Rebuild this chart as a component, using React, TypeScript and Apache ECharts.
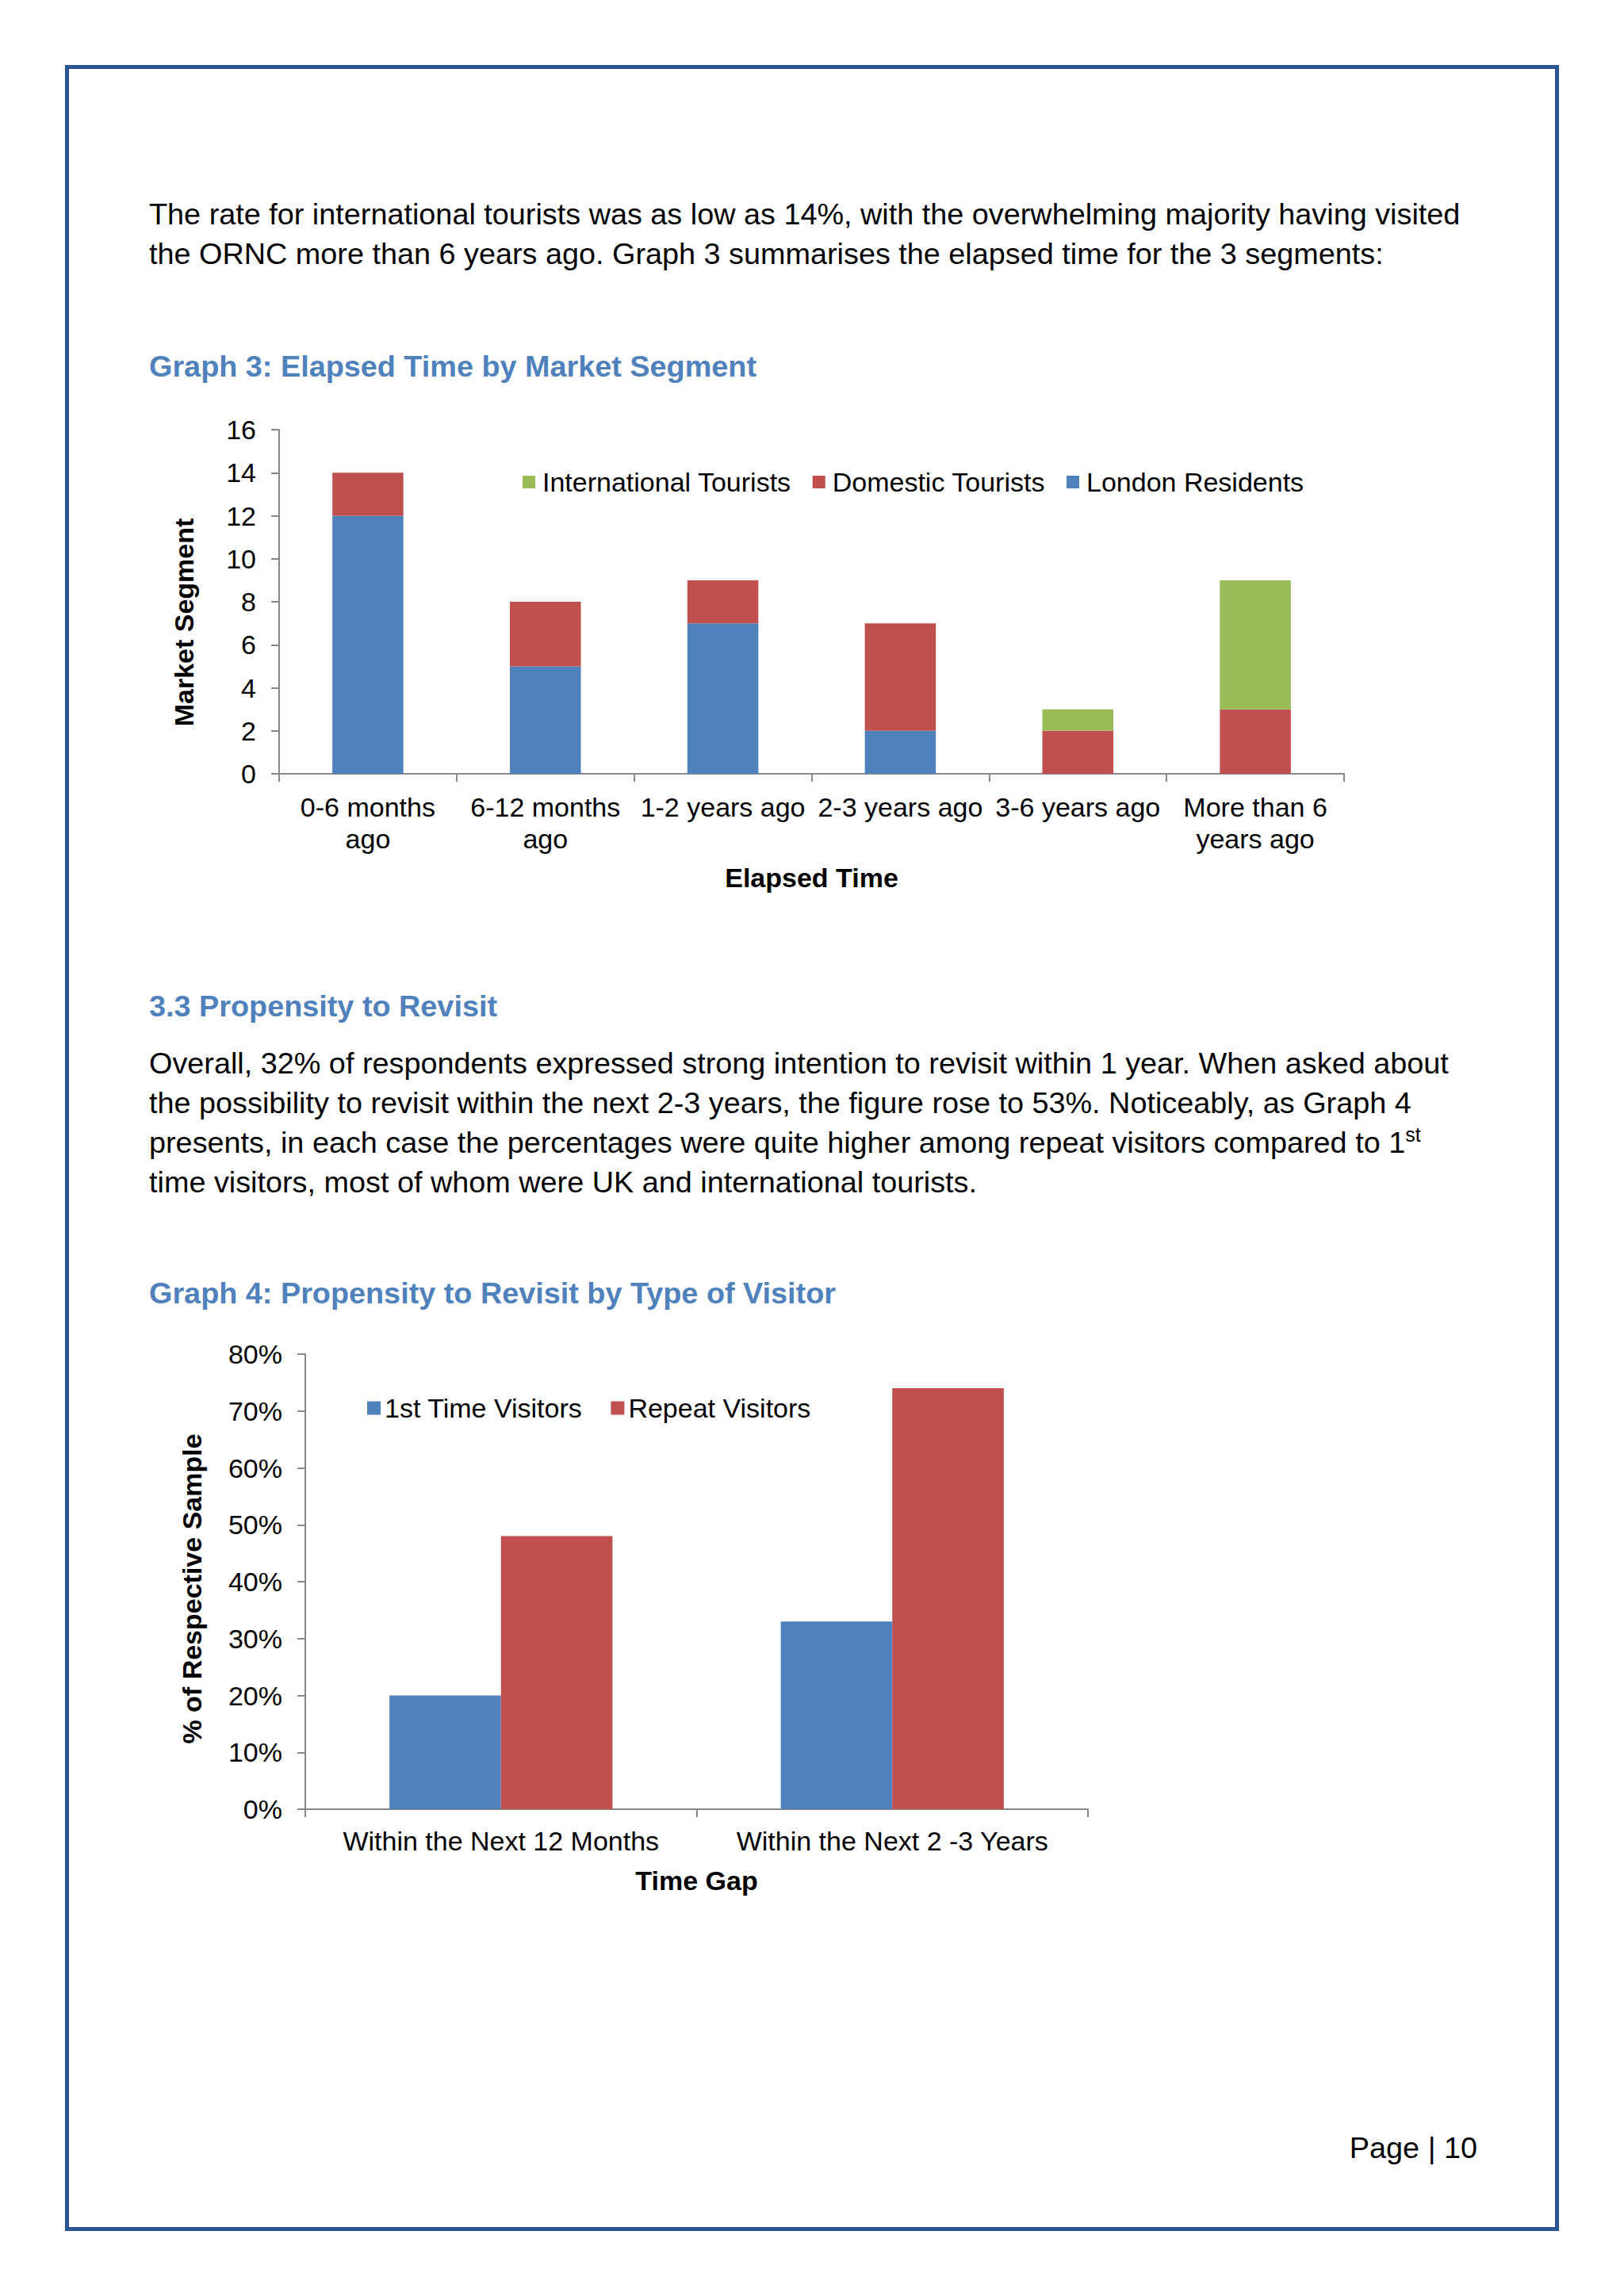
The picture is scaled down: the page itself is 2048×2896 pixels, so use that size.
import { useEffect, useRef } from 'react';
import * as echarts from 'echarts';
import type { EChartsOption } from 'echarts';

const FONT = '"Liberation Sans", Arial, sans-serif';
const AXIS = '#868686';
const BLUE = '#4F81BD';
const RED = '#C0504D';
const GREEN = '#9BBB59';

// Graph 3 data
const elapsedLabels = ['0-6 months\nago', '6-12 months\nago', '1-2 years ago', '2-3 years ago', '3-6 years ago', 'More than 6\nyears ago'];
const londonResidents = [12, 5, 7, 2, 0, 0];
const domesticTourists = [2, 3, 2, 5, 2, 3];
const internationalTourists = [0, 0, 0, 0, 1, 6];
const segmentLegend = ['International Tourists', 'Domestic Tourists', 'London Residents'];

// Graph 4 data
const timeGapLabels = ['Within the Next 12 Months', 'Within the Next 2 -3 Years'];
const firstTimeVisitors = [20, 33];
const repeatVisitors = [48, 74];
const visitorLegend = ['1st Time Visitors', 'Repeat Visitors'];

const axisLine = { show: true, lineStyle: { color: AXIS, width: 2 } };
const axisTick = { show: true, length: 10, lineStyle: { color: AXIS, width: 2 } };
const labelText = { fontSize: 34, color: '#000', fontFamily: FONT };
const nameText = { fontSize: 34, color: '#000', fontWeight: 'bold' as const, fontFamily: FONT, lineHeight: 34 };

const graph3: EChartsOption = {
  animation: false,
  textStyle: { fontFamily: FONT },
  grid: { left: 202, top: 22, width: 1343, height: 434 },
  legend: {
    data: segmentLegend,
    left: 504,
    top: 66,
    icon: 'rect',
    itemWidth: 16,
    itemHeight: 16,
    itemGap: 27,
    textStyle: { ...labelText, lineHeight: 34, padding: [0, 0, 0, 4] },
  },
  xAxis: {
    type: 'category',
    data: elapsedLabels,
    axisLine,
    axisTick,
    axisLabel: { ...labelText, lineHeight: 40, margin: 22, interval: 0 },
    name: 'Elapsed Time',
    nameLocation: 'middle',
    nameGap: 114,
    nameTextStyle: nameText,
  },
  yAxis: {
    type: 'value',
    min: 0,
    max: 16,
    interval: 2,
    axisLine,
    axisTick,
    splitLine: { show: false },
    axisLabel: { ...labelText, margin: 29 },
    name: 'Market Segment',
    nameLocation: 'middle',
    nameRotate: 90,
    nameGap: 103,
    nameTextStyle: { ...nameText, padding: [0, 52, 0, 0] },
  },
  series: [
    { name: 'London Residents', type: 'bar', stack: 'total', barWidth: '40%', data: londonResidents, itemStyle: { color: BLUE } },
    { name: 'Domestic Tourists', type: 'bar', stack: 'total', barWidth: '40%', data: domesticTourists, itemStyle: { color: RED } },
    { name: 'International Tourists', type: 'bar', stack: 'total', barWidth: '40%', data: internationalTourists, itemStyle: { color: GREEN } },
  ],
};

const graph4: EChartsOption = {
  animation: false,
  textStyle: { fontFamily: FONT },
  grid: { left: 235, top: 28, width: 987, height: 574 },
  legend: {
    data: visitorLegend,
    left: 308,
    top: 74,
    icon: 'rect',
    itemWidth: 17,
    itemHeight: 17,
    itemGap: 36,
    textStyle: { ...labelText, lineHeight: 34 },
  },
  xAxis: {
    type: 'category',
    data: timeGapLabels,
    axisLine,
    axisTick,
    axisLabel: { ...labelText, lineHeight: 40, margin: 20, interval: 0 },
    name: 'Time Gap',
    nameLocation: 'middle',
    nameGap: 73,
    nameTextStyle: nameText,
  },
  yAxis: {
    type: 'value',
    min: 0,
    max: 80,
    interval: 10,
    axisLine,
    axisTick,
    splitLine: { show: false },
    axisLabel: { ...labelText, margin: 29, formatter: '{value}%' },
    name: '% of Respective Sample',
    nameLocation: 'middle',
    nameRotate: 90,
    nameGap: 126,
    nameTextStyle: { ...nameText, padding: [0, 18, 0, 0] },
  },
  series: [
    { name: '1st Time Visitors', type: 'bar', barGap: '0%', barCategoryGap: '43%', data: firstTimeVisitors, itemStyle: { color: BLUE } },
    { name: 'Repeat Visitors', type: 'bar', barGap: '0%', barCategoryGap: '43%', data: repeatVisitors, itemStyle: { color: RED } },
  ],
};

function Chart({ option, style }: { option: EChartsOption; style: React.CSSProperties }) {
  const ref = useRef<HTMLDivElement>(null);

  useEffect(() => {
    if (!ref.current) return;
    const chart = echarts.init(ref.current, undefined, { renderer: 'svg' });
    chart.setOption(option);
    return () => {
      chart.dispose();
    };
  }, [option]);

  return <div ref={ref} style={{ position: 'absolute', ...style }} />;
}

const body: React.CSSProperties = {
  position: 'absolute',
  left: 188,
  fontSize: 37.8,
  lineHeight: '50px',
  whiteSpace: 'nowrap',
  color: '#000',
};

const heading: React.CSSProperties = {
  ...body,
  fontWeight: 'bold',
  color: BLUE,
};

export default function App() {
  useEffect(() => {
    document.body.style.margin = '0';
  }, []);

  return (
    <div style={{ position: 'relative', width: 2048, height: 2896, background: '#fff', fontFamily: FONT, overflow: 'hidden' }}>
      <div
        style={{
          position: 'absolute',
          left: 82,
          top: 82,
          width: 1884,
          height: 2732,
          boxSizing: 'border-box',
          border: '5px solid #2C5491',
        }}
      />

      <div style={{ ...body, top: 245 }}>
        <div>The rate for international tourists was as low as 14%, with the overwhelming majority having visited</div>
        <div>the ORNC more than 6 years ago. Graph 3 summarises the elapsed time for the 3 segments:</div>
      </div>

      <div style={{ ...heading, top: 437 }}>Graph 3: Elapsed Time by Market Segment</div>

      <Chart option={graph3} style={{ left: 150, top: 520, width: 1650, height: 640 }} />

      <div style={{ ...heading, top: 1244 }}>3.3 Propensity to Revisit</div>

      <div style={{ ...body, top: 1316 }}>
        <div>Overall, 32% of respondents expressed strong intention to revisit within 1 year. When asked about</div>
        <div>the possibility to revisit within the next 2-3 years, the figure rose to 53%. Noticeably, as Graph 4</div>
        <div>
          presents, in each case the percentages were quite higher among repeat visitors compared to 1
          <sup style={{ fontSize: 25, lineHeight: 0 }}>st</sup>
        </div>
        <div>time visitors, most of whom were UK and international tourists.</div>
      </div>

      <div style={{ ...heading, top: 1606 }}>Graph 4: Propensity to Revisit by Type of Visitor</div>

      <Chart option={graph4} style={{ left: 150, top: 1680, width: 1300, height: 760 }} />

      <div style={{ ...body, left: 'auto', right: 2048 - 1863, top: 2684 }}>Page | 10</div>
    </div>
  );
}
